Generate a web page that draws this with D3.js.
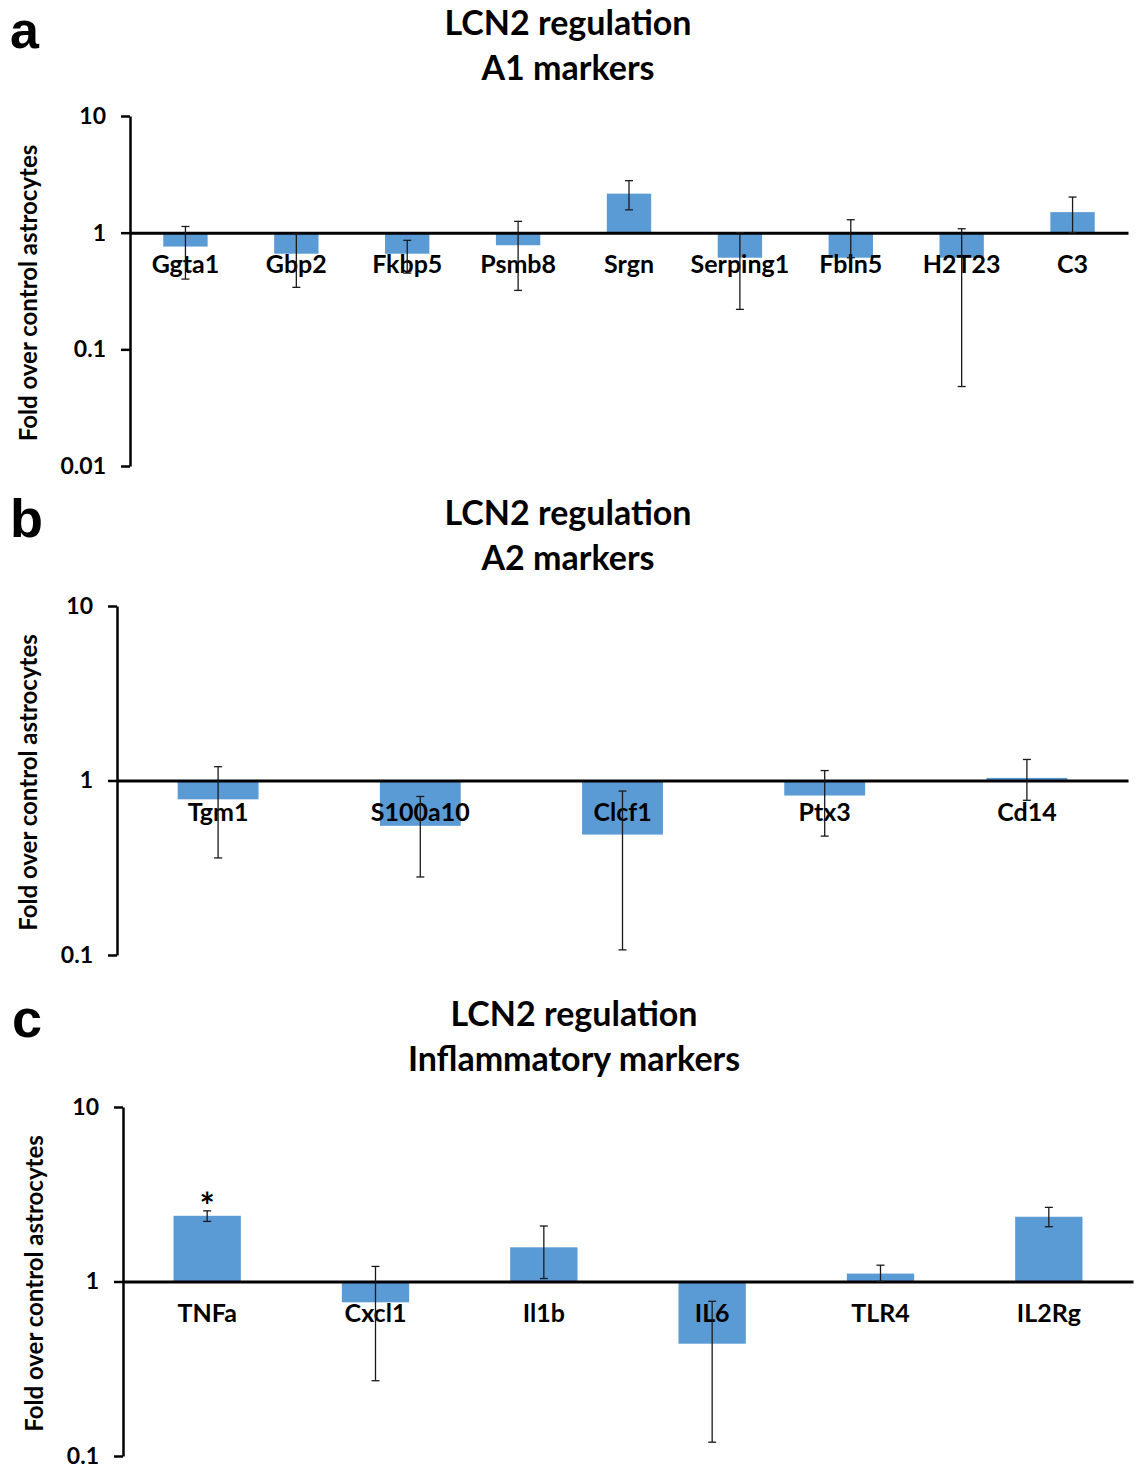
<!DOCTYPE html>
<html>
<head>
<meta charset="utf-8">
<script src="https://cdn.jsdelivr.net/npm/d3@7"></script>
<style>
  body { margin: 0; background: #fff; }
  text { font-family: Lato, "Open Sans", sans-serif; font-weight: bold; fill: #000; }
</style>
</head>
<body>
<div id="chart"></div>
<script>
// panel a - A1 markers
var a1Genes = ["Ggta1", "Gbp2", "Fkbp5", "Psmb8", "Srgn", "Serping1", "Fbln5", "H2T23", "C3"];
var a1Fold = [0.76, 0.66, 0.66, 0.78, 2.16, 0.61, 0.61, 0.61, 1.50];
var a1ErrLow = [0.40, 0.34, 0.45, 0.32, 1.57, 0.22, 0.61, 0.048, 1.0];
var a1ErrHigh = [1.13, 0.98, 0.86, 1.25, 2.79, 1.0, 1.29, 1.08, 2.02];
var a1Ticks = [10, 1, 0.1, 0.01];

// panel b - A2 markers
var a2Genes = ["Tgm1", "S100a10", "Clcf1", "Ptx3", "Cd14"];
var a2Fold = [0.78, 0.55, 0.49, 0.82, 1.035];
var a2ErrLow = [0.36, 0.28, 0.107, 0.48, 0.77];
var a2ErrHigh = [1.20, 0.81, 0.87, 1.14, 1.32];
var a2Ticks = [10, 1, 0.1];

// panel c - inflammatory markers
var infGenes = ["TNFa", "Cxcl1", "Il1b", "IL6", "TLR4", "IL2Rg"];
var infFold = [2.38, 0.76, 1.57, 0.44, 1.11, 2.35];
var infErrLow = [2.21, 0.27, 1.04, 0.12, 1.0, 2.06];
var infErrHigh = [2.54, 1.22, 2.08, 0.77, 1.24, 2.66];
var infStars = ["*", "", "", "", "", ""];
var infTicks = [10, 1, 0.1];

var W = 1139, H = 1471;
var barColor = "#5b9bd5";

var svg = d3.select("#chart").append("svg")
  .attr("width", W)
  .attr("height", H);

function drawPanel(p) {
  var g = svg.append("g");

  var x = d3.scaleBand()
    .domain(p.genes)
    .range([p.left, p.right])
    .paddingInner(0.6)
    .paddingOuter(0.3);

  var y = d3.scaleLog()
    .domain([p.ticks[p.ticks.length - 1], p.ticks[0]])
    .range([p.bottom, p.top]);

  var data = p.genes.map(function (gene, i) {
    return { gene: gene, v: p.fold[i], lo: p.low[i], hi: p.high[i], star: p.stars ? p.stars[i] : "" };
  });

  // panel letter
  g.append("text")
    .attr("x", p.letterX)
    .attr("y", p.letterY)
    .style("font-family", "'Liberation Sans', Arial, sans-serif")
    .style("font-size", p.letterSize + "px")
    .text(p.letter);

  // titles
  g.selectAll("text.title")
    .data(p.title)
    .enter()
    .append("text")
    .attr("class", "title")
    .attr("x", p.titleX)
    .attr("y", function (d, i) { return p.titleY + i * 45; })
    .attr("text-anchor", "middle")
    .style("font-size", "34px")
    .text(function (d) { return d; });

  // y axis label
  g.append("text")
    .attr("transform", "translate(" + p.labelX + "," + ((p.top + p.bottom) / 2 + 2) + ") rotate(-90)")
    .attr("text-anchor", "middle")
    .style("font-size", "24px")
    .text("Fold over control astrocytes");

  // bars
  g.selectAll("rect.bar")
    .data(data)
    .enter()
    .append("rect")
    .attr("class", "bar")
    .attr("x", function (d) { return x(d.gene); })
    .attr("width", x.bandwidth())
    .attr("y", function (d) { return Math.min(y(d.v), y(1)); })
    .attr("height", function (d) { return Math.abs(y(d.v) - y(1)); })
    .style("fill", barColor);

  // y axis
  var yAxis = g.append("g")
    .attr("transform", "translate(" + p.left + ",0)")
    .call(d3.axisLeft(y)
      .tickValues(p.ticks)
      .tickFormat(d3.format("~g"))
      .tickSize(9)
      .tickSizeOuter(0)
      .tickPadding(15));
  yAxis.select(".domain").style("stroke", "#000").style("stroke-width", 2.5);
  yAxis.selectAll(".tick line").style("stroke", "#000").style("stroke-width", 2.5);
  yAxis.selectAll(".tick text")
    .style("font-family", "Lato, sans-serif")
    .style("font-size", "23px")
    .style("font-weight", "bold");

  // category axis at fold = 1
  var xAxis = g.append("g")
    .attr("transform", "translate(0," + y(1) + ")")
    .call(d3.axisBottom(x).tickSize(0).tickSizeOuter(0).tickPadding(23));
  xAxis.select(".domain").style("stroke", "#000").style("stroke-width", 3);
  xAxis.selectAll(".tick text")
    .style("font-family", "Lato, sans-serif")
    .style("font-size", "25px")
    .style("font-weight", "bold");

  // error bars
  var eb = g.selectAll("g.err")
    .data(data)
    .enter()
    .append("g")
    .attr("class", "err")
    .attr("transform", function (d) { return "translate(" + (x(d.gene) + x.bandwidth() / 2) + ",0)"; })
    .style("stroke", "#1a1a1a")
    .style("stroke-width", 1.3);
  eb.append("line")
    .attr("y1", function (d) { return y(d.lo); })
    .attr("y2", function (d) { return y(d.hi); });
  eb.append("line")
    .attr("x1", -4).attr("x2", 4)
    .attr("y1", function (d) { return y(d.hi); })
    .attr("y2", function (d) { return y(d.hi); });
  eb.append("line")
    .attr("x1", -4).attr("x2", 4)
    .attr("y1", function (d) { return y(d.lo); })
    .attr("y2", function (d) { return y(d.lo); });

  // significance marks
  g.selectAll("text.star")
    .data(data.filter(function (d) { return d.star; }))
    .enter()
    .append("text")
    .attr("class", "star")
    .attr("x", function (d) { return x(d.gene) + x.bandwidth() / 2; })
    .attr("y", function (d) { return y(d.hi) + 8; })
    .attr("text-anchor", "middle")
    .style("font-size", "36px")
    .text(function (d) { return d.star; });
}

drawPanel({
  letter: "a", letterX: 10, letterY: 47.5, letterSize: 52,
  title: ["LCN2 regulation", "A1 markers"], titleX: 568, titleY: 35,
  labelX: 37,
  genes: a1Genes, fold: a1Fold, low: a1ErrLow, high: a1ErrHigh, ticks: a1Ticks,
  left: 130, right: 1128, top: 116, bottom: 466
});

drawPanel({
  letter: "b", letterX: 10, letterY: 537, letterSize: 54,
  title: ["LCN2 regulation", "A2 markers"], titleX: 568, titleY: 525,
  labelX: 37,
  genes: a2Genes, fold: a2Fold, low: a2ErrLow, high: a2ErrHigh, ticks: a2Ticks,
  left: 117, right: 1128, top: 606, bottom: 955
});

drawPanel({
  letter: "c", letterX: 12, letterY: 1037, letterSize: 54,
  title: ["LCN2 regulation", "Inflammatory markers"], titleX: 574, titleY: 1026,
  labelX: 43,
  genes: infGenes, fold: infFold, low: infErrLow, high: infErrHigh, stars: infStars, ticks: infTicks,
  left: 123, right: 1133, top: 1107, bottom: 1456
});
</script>
</body>
</html>
